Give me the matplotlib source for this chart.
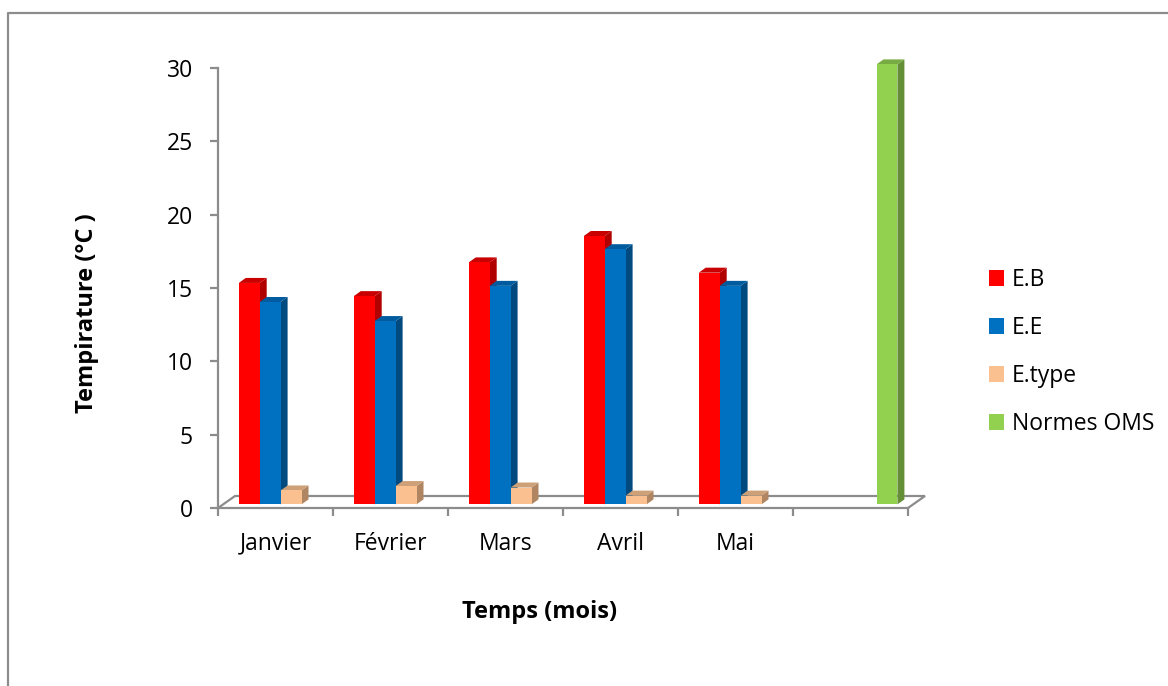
import numpy as np
import matplotlib
matplotlib.use("Agg")
import matplotlib.pyplot as plt
from matplotlib.patches import Polygon, Patch
from matplotlib.lines import Line2D

plt.rcParams["font.family"] = ["Open Sans", "DejaVu Sans"]

# monthly temperatures (°C)
categories = ["Janvier", "Février", "Mars", "Avril", "Mai", ""]
eb = [15.1, 14.2, 16.5, 18.3, 15.8, np.nan]
ee = [13.8, 12.5, 14.9, 17.4, 14.9, np.nan]
etype = [0.95, 1.25, 1.15, 0.6, 0.6, np.nan]
oms = [np.nan, np.nan, np.nan, np.nan, np.nan, 30]
series_names = ["E.B", "E.E", "E.type", "Normes OMS"]

# front / top / side shades for the pseudo-3D columns
COLORS = [
    ("#FF0000", "#C80000", "#B00000"),
    ("#0070C0", "#005C9E", "#004A80"),
    ("#FAC090", "#CDA078", "#B08662"),
    ("#92D050", "#78AC42", "#648F36"),
]
AXC = "#8C8C8C"
FS = 16.5

W, H = 1168, 686
fig = plt.figure(figsize=(W / 100, H / 100), dpi=100)
x0, x1, yb, yt = 218, 908, 508, 68
ax = fig.add_axes([x0 / W, (H - yb) / H, (x1 - x0) / W, (yb - yt) / H])
ax.set_xlim(-0.5, 5.5)
ax.set_ylim(0, 30)

px_x = (x1 - x0) / 6.0        # pixels per category
px_y = (yb - yt) / 30.0       # pixels per degree

# floor depth and column depth, in data units
fdx, fdy = 17 / px_x, 12 / px_y
bdx, bdy = 7 / px_x, 5 / px_y
pos = 0.3                     # columns sit a bit behind the front edge
ox, oy = pos * fdx, pos * fdy

# floor
ax.add_patch(Polygon([(-0.5, 0), (5.5, 0), (5.5 + fdx, fdy), (-0.5 + fdx, fdy)],
                     closed=True, fc="white", ec="none", clip_on=False, zorder=1))
ax.plot([-0.5, -0.5 + fdx, 5.5 + fdx, 5.5], [0, fdy, fdy, 0], color=AXC, lw=1.6,
        clip_on=False, zorder=1.5, solid_joinstyle="miter")

nser = 4
bw = 1.0 / (nser + 1.5)
data = [eb, ee, etype, oms]
z = 2
for i in range(len(categories)):
    for j, vals in enumerate(data):
        v = vals[i]
        if np.isnan(v):
            continue
        front, top, side = COLORS[j]
        xl = i - 0.5 + 0.75 * bw + j * bw + ox
        xr = xl + bw
        yl, yh = oy, oy + v
        ax.add_patch(Polygon([(xr, yl), (xr + bdx, yl + bdy), (xr + bdx, yh + bdy), (xr, yh)],
                             fc=side, ec="none", clip_on=False, zorder=z))
        ax.add_patch(Polygon([(xl, yh), (xr, yh), (xr + bdx, yh + bdy), (xl + bdx, yh + bdy)],
                             fc=top, ec="none", clip_on=False, zorder=z))
        ax.add_patch(Polygon([(xl, yl), (xr, yl), (xr, yh), (xl, yh)],
                             fc=front, ec="none", clip_on=False, zorder=z))
        z += 0.01

# axes
for s in ["top", "right"]:
    ax.spines[s].set_visible(False)
for s in ["left", "bottom"]:
    ax.spines[s].set_color(AXC)
    ax.spines[s].set_linewidth(1.6)
    ax.spines[s].set_zorder(3)

ax.set_yticks(np.arange(0, 31, 5))
ax.tick_params(axis="y", length=6, width=1.6, color=AXC, pad=12, labelsize=FS, labelcolor="black")
ax.set_xticks(np.arange(6))
ax.set_xticklabels(categories)
ax.tick_params(axis="x", which="major", length=0, pad=17, labelsize=FS, labelcolor="black")
ax.set_xticks(np.arange(-0.5, 6.0, 1.0), minor=True)
ax.tick_params(axis="x", which="minor", length=6, width=1.6, color=AXC)

fig.text(87 / W, 1 - 313 / H, "Tempirature (°C )", rotation=90, ha="center", va="center",
         fontsize=17, fontweight="bold")
fig.text(540 / W, 1 - 612 / H, "Temps (mois)", ha="center", va="center",
         fontsize=17, fontweight="bold")

handles = [Patch(fc=c[0], ec="none") for c in COLORS]
fig.legend(handles, series_names, loc="center left", bbox_to_anchor=(980 / W, 1 - 352 / H),
           frameon=False, fontsize=FS, handlelength=0.65, handleheight=0.65,
           handletextpad=0.35, labelspacing=1.05, borderaxespad=0)

# chart area border (left and top edges)
fig.add_artist(Line2D([7.5 / W, 7.5 / W, 1.0], [0.0, 1 - 12.5 / H, 1 - 12.5 / H],
                      transform=fig.transFigure, color="#8C8C8C", lw=1.6))

fig.savefig("out.png", dpi=100)
